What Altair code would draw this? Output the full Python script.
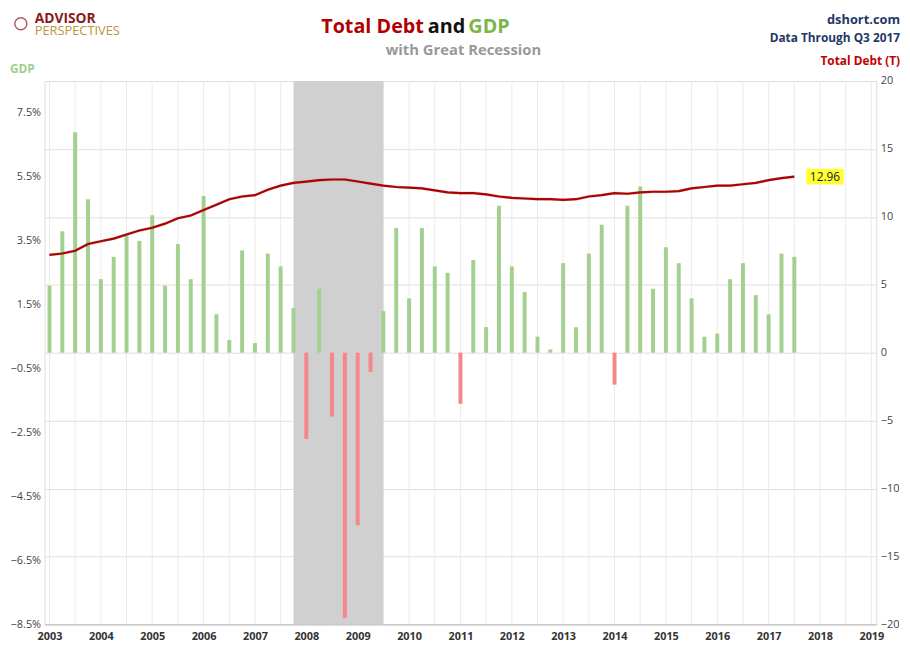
import altair as alt
import pandas as pd

gdp = [2.1, 3.8, 6.9, 4.8,
       2.3, 3.0, 3.7, 3.5,
       4.3, 2.1, 3.4, 2.3,
       4.9, 1.2, 0.4, 3.2,
       0.3, 3.1, 2.7, 1.4,
       -2.7, 2.0, -2.0, -8.3,
       -5.4, -0.6, 1.3, 3.9,
       1.7, 3.9, 2.7, 2.5,
       -1.6, 2.9, 0.8, 4.6,
       2.7, 1.9, 0.5, 0.1,
       2.8, 0.8, 3.1, 4.0,
       -1.0, 4.6, 5.2, 2.0,
       3.3, 2.8, 1.7, 0.5,
       0.6, 2.3, 2.8, 1.8,
       1.2, 3.1, 3.0]
debt = [7.2, 7.3, 7.5, 8.0,
        8.2, 8.4, 8.7, 9.0,
        9.2, 9.5, 9.9, 10.1,
        10.5, 10.9, 11.3, 11.5,
        11.6, 12.0, 12.3, 12.5,
        12.6, 12.7, 12.75, 12.75,
        12.6, 12.45, 12.3, 12.2,
        12.15, 12.1, 11.95, 11.8,
        11.75, 11.75, 11.65, 11.5,
        11.4, 11.35, 11.3, 11.3,
        11.25, 11.3, 11.5, 11.6,
        11.75, 11.7, 11.8, 11.85,
        11.85, 11.9, 12.1, 12.2,
        12.3, 12.3, 12.4, 12.5,
        12.7, 12.85, 12.96]
t = [2003 + i / 4 for i in range(len(gdp))]
df = pd.DataFrame({"t": t, "gdp": gdp, "debt": debt})
df["neg"] = df["gdp"] < 0

rec = pd.DataFrame({"s": [2007.75], "e": [2009.5]})
last = df.tail(1)

W, H = 842, 550
F = "Open Sans"
xs = alt.Scale(domain=[2003, 2019], nice=False)
xax = alt.Axis(values=list(range(2003, 2020)), format="d", grid=False, title=None,
               labelFontSize=11, labelColor="#333", labelFont=F, labelFontWeight="bold",
               domainColor="#bbb", ticks=False, labelPadding=6)
base = alt.Chart(df)

vgrid = alt.Chart(pd.DataFrame({"g": [2003 + i / 2 for i in range(33)]})).mark_rule(
    color="#ebebeb", strokeWidth=1).encode(x=alt.X("g:Q", scale=xs, axis=xax))

shade = alt.Chart(rec).mark_rect(color="#d0d0d0").encode(
    x=alt.X("s:Q", scale=xs, axis=xax), x2="e:Q")

lax = alt.Axis(values=[7.5, 5.5, 3.5, 1.5, -0.5, -2.5, -4.5, -6.5, -8.5],
               labelExpr="format(datum.value, '.1f') + '%'", title=None, grid=False,
               domain=False, ticks=False, labelFontSize=11, labelColor="#444", labelFont=F,
               labelPadding=4)
bars = base.mark_bar(width=4).encode(
    x=alt.X("t:Q", scale=xs, axis=xax),
    y=alt.Y("gdp:Q", scale=alt.Scale(domain=[-8.5, 8.5], nice=False, zero=True), axis=lax),
    y2=alt.datum(0),
    color=alt.Color("neg:N", scale=alt.Scale(domain=[False, True], range=["#a3d08e", "#f7868a"]),
                    legend=None),
)

rax = alt.Axis(values=list(range(-20, 21, 5)), title=None, orient="right", grid=True,
               gridColor="#e0e0e0", domain=False, ticks=False, labelFontSize=11,
               labelColor="#444", labelFont=F, labelPadding=4)
ry = alt.Scale(domain=[-20, 20], nice=False)
shadow = base.mark_line(color="#999", strokeWidth=3, opacity=0.4, dy=3).encode(
    x=alt.X("t:Q", scale=xs, axis=xax), y=alt.Y("debt:Q", scale=ry, axis=None))
line = base.mark_line(color="#b00000", strokeWidth=2.2).encode(
    x=alt.X("t:Q", scale=xs, axis=xax), y=alt.Y("debt:Q", scale=ry, axis=rax))
lab_bg = alt.Chart(last).mark_rect(color="#ffff33", width=38, height=16, xOffset=31).encode(
    x=alt.X("t:Q", scale=xs, axis=xax), y=alt.Y("debt:Q", scale=ry, axis=None))
lab = alt.Chart(last).mark_text(align="center", dx=31, fontSize=12, font=F, color="#222").encode(
    x=alt.X("t:Q", scale=xs, axis=xax), y=alt.Y("debt:Q", scale=ry, axis=None),
    text=alt.Text("debt:Q", format=".2f"))

rows = [
    {"x": 384, "y": -55, "t": "Total Debt", "c": "#b00000", "s": 20, "w": "bold", "a": "right"},
    {"x": 388, "y": -55, "t": "and", "c": "#111", "s": 20, "w": "bold", "a": "left"},
    {"x": 429, "y": -55, "t": "GDP", "c": "#7ab648", "s": 20, "w": "bold", "a": "left"},
    {"x": 424, "y": -31, "t": "with Great Recession", "c": "#999", "s": 15, "w": "bold", "a": "center"},
    {"x": 866, "y": -62, "t": "dshort.com", "c": "#1f3864", "s": 13, "w": "bold", "a": "right"},
    {"x": 866, "y": -44, "t": "Data Through Q3 2017", "c": "#1f3864", "s": 12, "w": "bold", "a": "right"},
    {"x": 866, "y": -20, "t": "Total Debt (T)", "c": "#c00000", "s": 12, "w": "bold", "a": "right"},
    {"x": -35, "y": -12, "t": "GDP", "c": "#9cd08a", "s": 12, "w": "bold", "a": "left"},
    {"x": -10, "y": -63, "t": "ADVISOR", "c": "#8b1a1a", "s": 14, "w": "bold", "a": "left"},
    {"x": -10, "y": -51, "t": "PERSPECTIVES", "c": "#b8963e", "s": 13, "w": "normal", "a": "left"},
]
texts = []
for r in rows:
    texts.append(alt.Chart(pd.DataFrame([r])).mark_text(
        align=r["a"], baseline="middle", font=F, fontSize=r["s"], fontWeight=r["w"], color=r["c"]
    ).encode(x=alt.value(r["x"]), y=alt.value(r["y"]), text="t:N"))
logo = alt.Chart(pd.DataFrame({"a": [1]})).mark_point(
    shape="circle", size=150, color="#8b1a1a", filled=False, strokeWidth=1.5
).encode(x=alt.value(-24), y=alt.value(-58))

chart = alt.layer(vgrid, shade, bars, shadow, line, lab_bg, lab, logo, *texts).resolve_scale(
    y="independent"
).properties(width=W, height=H, padding={"left": 2, "top": 0, "right": 2, "bottom": 2}
).configure_view(stroke="#ccc").configure(background="white")

chart.save("out.html", embed_options={"renderer": "svg", "actions": False})
